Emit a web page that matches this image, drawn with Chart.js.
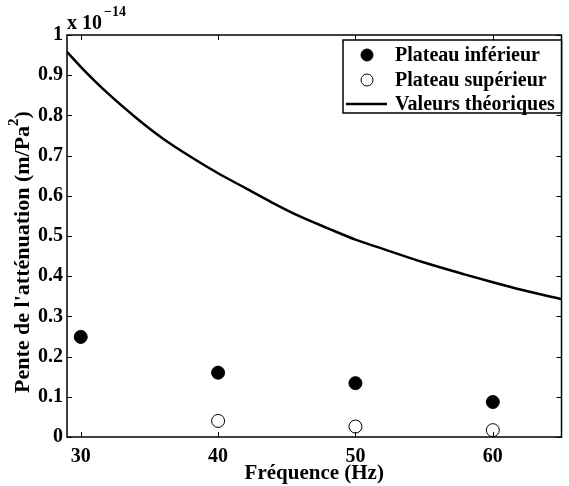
<!DOCTYPE html>
<html>
<head>
<meta charset="utf-8">
<script src="https://cdn.jsdelivr.net/npm/chart.js@4"></script>
<style>
  html, body { margin: 0; padding: 0; background: #fff; }
  #wrap { width: 569px; height: 486px; }
</style>
</head>
<body>
<div id="wrap"><canvas id="penteChart" width="569" height="486"></canvas></div>
<script>
// DATA
let freqMesure = [30, 40, 50, 60];
let plateauInferieur = [0.249, 0.160, 0.134, 0.087];
let plateauSuperieur = [null, 0.040, 0.026, 0.017];
let freqTheorie = [29, 30, 32, 34, 36, 38, 40, 42, 44, 46, 48, 50, 52, 55, 58, 60, 62, 65];
let valeursTheoriques = [0.958, 0.921, 0.854, 0.795, 0.742, 0.697, 0.656, 0.619, 0.582, 0.548, 0.519, 0.491, 0.468, 0.434, 0.404, 0.385, 0.367, 0.343];
let xTicks = [30, 40, 50, 60];
let yTicks = [0, 0.1, 0.2, 0.3, 0.4, 0.5, 0.6, 0.7, 0.8, 0.9, 1];
let serieLabels = ['Plateau inférieur', 'Plateau supérieur', 'Valeurs théoriques'];
let titreY = "Pente de l'atténuation (m/Pa";

const famille = '"Liberation Serif", "DejaVu Serif", serif';
const police = 'bold 20px ' + famille;

function toPoints(xs, ys) {
  return xs.map((x, i) => ({x: x, y: ys[i]})).filter(p => p.y !== null);
}

// cadre, graduations internes, facteur d'échelle, titre y et légende
const cadrePlugin = {
  id: 'cadre',
  afterDraw(chart) {
    const ctx = chart.ctx;
    const a = chart.chartArea;
    const xs = chart.scales.x, ys = chart.scales.y;
    ctx.save();
    ctx.strokeStyle = '#000';
    ctx.lineWidth = 1.5;
    ctx.strokeRect(a.left, a.top, a.right - a.left, a.bottom - a.top);
    ctx.lineWidth = 1;
    ctx.beginPath();
    xTicks.forEach(t => {
      const px = Math.round(xs.getPixelForValue(t)) + 0.5;
      ctx.moveTo(px, a.bottom); ctx.lineTo(px, a.bottom - 5);
      ctx.moveTo(px, a.top); ctx.lineTo(px, a.top + 5);
    });
    yTicks.forEach(t => {
      const py = Math.round(ys.getPixelForValue(t)) + 0.5;
      ctx.moveTo(a.left, py); ctx.lineTo(a.left + 5, py);
      ctx.moveTo(a.right, py); ctx.lineTo(a.right - 5, py);
    });
    ctx.stroke();

    // x 10^-14
    ctx.fillStyle = '#000';
    ctx.font = police;
    ctx.textAlign = 'left';
    ctx.textBaseline = 'alphabetic';
    ctx.fillText('x 10', a.left, 29);
    const w = ctx.measureText('x 10').width;
    ctx.font = 'bold 14px ' + famille;
    ctx.fillText('\u221214', a.left + w + 2, 16);

    // titre de l'axe y avec exposant
    ctx.save();
    ctx.translate(29, 252);
    ctx.rotate(-Math.PI / 2);
    ctx.font = 'bold 22px ' + famille;
    const w1 = ctx.measureText(titreY).width;
    ctx.font = 'bold 15px ' + famille;
    const w2 = ctx.measureText('2').width;
    ctx.font = 'bold 22px ' + famille;
    const w3 = ctx.measureText(')').width;
    let x0 = -(w1 + w2 + w3) / 2;
    ctx.fillText(titreY, x0, 0);
    ctx.font = 'bold 15px ' + famille;
    ctx.fillText('2', x0 + w1, -11);
    ctx.font = 'bold 22px ' + famille;
    ctx.fillText(')', x0 + w1 + w2, 0);
    ctx.restore();

    // légende
    const lx = 343, ly = 40, lw = a.right - lx, lh = 73;
    ctx.fillStyle = '#fff';
    ctx.fillRect(lx, ly, lw, lh);
    ctx.lineWidth = 1.5;
    ctx.strokeRect(lx, ly, lw, lh);
    const rows = [55, 80, 104];
    chart.data.datasets.forEach((ds, i) => {
      const y = rows[i];
      ctx.strokeStyle = '#000';
      if (ds.showLine) {
        ctx.lineWidth = 2.5;
        ctx.beginPath(); ctx.moveTo(346, y); ctx.lineTo(387, y); ctx.stroke();
      } else {
        ctx.beginPath();
        ctx.arc(367, y, 6, 0, Math.PI * 2);
        ctx.fillStyle = ds.backgroundColor;
        ctx.fill();
        ctx.lineWidth = 1;
        ctx.stroke();
      }
      ctx.fillStyle = '#000';
      ctx.font = police;
      ctx.textBaseline = 'middle';
      ctx.fillText(ds.label, 395, y + 1);
    });
    ctx.restore();
  }
};

const fondPlugin = {
  id: 'fond',
  beforeDraw(chart) {
    const ctx = chart.ctx;
    ctx.save();
    ctx.fillStyle = '#fff';
    ctx.fillRect(0, 0, chart.width, chart.height);
    ctx.restore();
  }
};

let penteCtx = document.getElementById('penteChart').getContext('2d');
let penteChart = new Chart(penteCtx, {
  type: 'scatter',
  data: {
    datasets: [{
      label: serieLabels[0],
      data: toPoints(freqMesure, plateauInferieur),
      backgroundColor: '#000',
      borderColor: '#000',
      borderWidth: 1,
      pointRadius: 6.5,
      showLine: false
    }, {
      label: serieLabels[1],
      data: toPoints(freqMesure, plateauSuperieur),
      backgroundColor: '#fff',
      borderColor: '#000',
      borderWidth: 1,
      pointRadius: 6.5,
      showLine: false
    }, {
      label: serieLabels[2],
      data: toPoints(freqTheorie, valeursTheoriques),
      borderColor: '#000',
      backgroundColor: '#000',
      borderWidth: 2.5,
      pointRadius: 0,
      showLine: true,
      cubicInterpolationMode: 'monotone'
    }]
  },
  options: {
    responsive: false,
    animation: false,
    clip: true,
    layout: { padding: { top: 35, right: 6, left: 0, bottom: 0 } },
    plugins: {
      legend: { display: false },
      tooltip: { enabled: false }
    },
    scales: {
      x: {
        type: 'linear',
        min: 29,
        max: 65,
        afterBuildTicks: s => { s.ticks = xTicks.map(v => ({value: v})); },
        afterFit: s => { s.height = 49; },
        grid: { display: false, drawTicks: false },
        border: { display: false },
        ticks: { color: '#000', font: { family: famille, size: 20, weight: 'bold' }, padding: 8, maxRotation: 0 },
        title: { display: true, text: 'Fréquence (Hz)', color: '#000', font: { family: famille, size: 21, weight: 'bold' }, padding: { top: 0, bottom: 0 } }
      },
      y: {
        type: 'linear',
        min: 0,
        max: 1,
        afterBuildTicks: s => { s.ticks = yTicks.map(v => ({value: v})); },
        afterFit: s => { s.width = 67; },
        grid: { display: false, drawTicks: false },
        border: { display: false },
        ticks: { color: '#000', font: { family: famille, size: 20, weight: 'bold' }, padding: 4, callback: v => String(v) },
        title: { display: false }
      }
    }
  },
  plugins: [fondPlugin, cadrePlugin]
});
</script>
</body>
</html>
